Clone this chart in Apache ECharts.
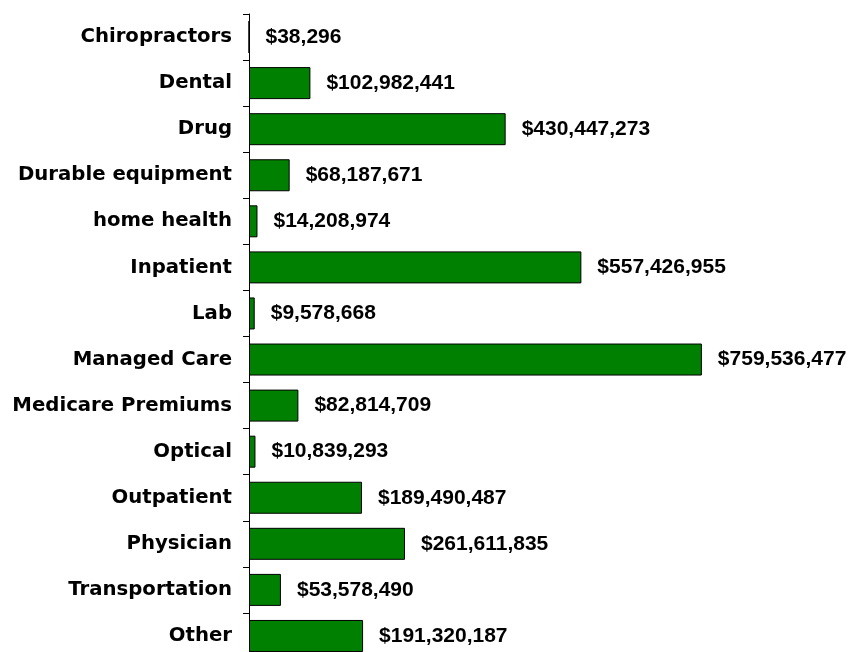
<!DOCTYPE html>
<html>
<head>
<meta charset="utf-8">
<script src="https://cdn.jsdelivr.net/npm/echarts@6/dist/echarts.min.js"></script>
<style>
  html, body { margin: 0; padding: 0; background: #fff; }
  #chart { width: 849px; height: 652px; }
</style>
</head>
<body>
<div id="chart"></div>
<script>
const categories = [
  "Chiropractors", "Dental", "Drug", "Durable equipment", "home health",
  "Inpatient", "Lab", "Managed Care", "Medicare Premiums", "Optical",
  "Outpatient", "Physician", "Transportation", "Other"
];
const spending = [
  38296, 102982441, 430447273, 68187671, 14208974,
  557426955, 9578668, 759536477, 82814709, 10839293,
  189490487, 261611835, 53578490, 191320187
];

const chart = echarts.init(document.getElementById("chart"));

chart.setOption({
  animation: false,
  backgroundColor: "#ffffff",
  grid: {
    left: 249, right: 123, top: 14, bottom: -7,
    outerBoundsMode: "none",
    containLabel: false
  },
  xAxis: {
    type: "value",
    min: 0,
    max: 800000000,
    show: false
  },
  yAxis: {
    type: "category",
    data: categories,
    inverse: true,
    axisLine: { lineStyle: { color: "#000", width: 1 } },
    axisTick: { show: true, length: 6, lineStyle: { color: "#000" } },
    axisLabel: {
      margin: 17,
      color: "#000",
      fontFamily: "DejaVu Sans",
      fontWeight: "bold",
      fontSize: 19.7
    }
  },
  series: [{
    type: "bar",
    data: spending,
    barWidth: 32,
    itemStyle: { color: "#008000", borderColor: "#000", borderWidth: 1 },
    label: {
      show: true,
      position: "right",
      distance: 16,
      color: "#000",
      fontFamily: "Liberation Sans, Arial, sans-serif",
      fontWeight: "bold",
      fontSize: 21,
      formatter: p => "$" + p.value.toLocaleString("en-US")
    }
  }]
});

window.onresize = function () {
  chart.resize();
};
</script>
</body>
</html>
